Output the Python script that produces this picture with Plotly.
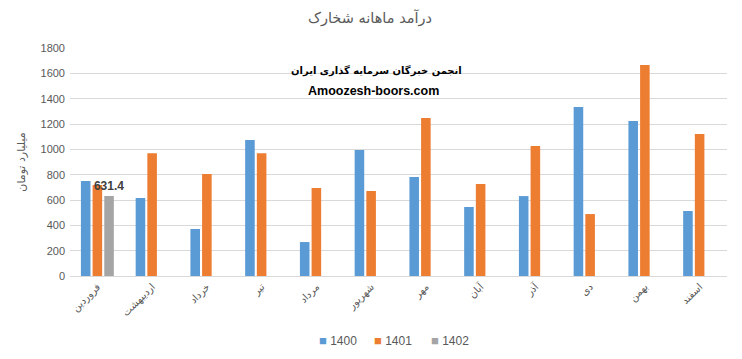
import plotly.graph_objects as go

months = ["فروردین", "اردیبهشت", "خرداد", "تیر", "مرداد", "شهریور",
          "مهر", "آبان", "آذر", "دی", "بهمن", "اسفند"]
y1400 = [750, 616, 371, 1073, 268, 995, 781, 545, 631, 1334, 1223, 513]
y1401 = [718, 970, 805, 970, 695, 671, 1247, 726, 1026, 489, 1665, 1121]
y1402 = [631.4, None, None, None, None, None, None, None, None, None, None, None]
series_names = ["1400", "1401", "1402"]
colors = ["#5B9BD5", "#ED7D31", "#A5A5A5"]
y_ticks = [0, 200, 400, 600, 800, 1000, 1200, 1400, 1600, 1800]

# page has an 8px body offset; screen positions converted below
OFF = 8
W, H = 742, 359
PL, PR, PT, PB = 70, 727, 48, 276  # plot area in screen pixels
TOP, BOTTOM = PT - OFF, H - (PB - OFF)
LEFT, RIGHT = PL - OFF, W - (PR - OFF)

def py(sy):
    return (PB - sy) / (PB - PT)

def px(sx):
    return (sx - PL) / (PR - PL)

fig = go.Figure()
for name, vals, col in zip(series_names, [y1400, y1401, y1402], colors):
    kw = {}
    if name == "1402":
        kw = dict(text=[f"{v}" if v is not None else "" for v in vals],
                  textposition="outside", cliponaxis=False, constraintext="none",
                  textfont=dict(family="Liberation Sans, Arial", size=12, color="#404040"),
                  texttemplate="<b>%{text}</b>")
    fig.add_trace(go.Bar(x=months, y=vals, name=name, marker_color=col,
                         marker_line_width=0, showlegend=False, **kw))

annotations = [
    dict(text="<b>انجمن خبرگان سرمایه گذاری ایران</b>", x=px(376), xref="paper",
         y=py(62), yref="paper", showarrow=False,
         font=dict(family="DejaVu Sans", size=10, color="#000000")),
    dict(text="<b>Amoozesh-boors.com</b>", x=px(373), xref="paper", y=py(82),
         yref="paper", showarrow=False,
         font=dict(family="Liberation Sans, Arial", size=12.5, color="#000000")),
]
# legend drawn as compact entries
legend_x = [317, 372, 429]
for name, col, lx in zip(series_names, colors, legend_x):
    annotations.append(dict(
        text=f'<span style="color:{col};font-size:13px">■</span> {name}',
        x=px(lx), xref="paper", xanchor="left", y=py(340), yref="paper",
        yanchor="middle", showarrow=False,
        font=dict(family="Liberation Sans, Arial", size=12, color="#595959")))

fig.update_layout(
    width=W, height=H,
    margin=dict(l=LEFT, r=RIGHT, t=TOP, b=BOTTOM, autoexpand=False),
    paper_bgcolor="white", plot_bgcolor="white",
    barmode="group", bargap=0.36, bargroupgap=0.18,
    showlegend=False,
    title=dict(text="درآمد ماهانه شخارک", x=(370 - OFF) / W, xanchor="center",
               y=1 - (18 - OFF) / H, yanchor="middle",
               font=dict(family="DejaVu Sans", size=14.5, color="#595959")),
    xaxis=dict(tickangle=-45, tickfont=dict(family="DejaVu Sans", size=10, color="#595959"),
               showline=True, linecolor="#d9d9d9", ticks="", showgrid=False,
               automargin=False),
    yaxis=dict(range=[0, 1800], tickvals=y_ticks, showgrid=True, gridcolor="#d9d9d9",
               zeroline=False, ticks="", ticklen=0, automargin=False,
               ticklabelstandoff=4,
               tickfont=dict(family="Liberation Sans, Arial", size=11, color="#595959"),
               title=dict(text="میلیارد تومان", standoff=12,
                          font=dict(family="DejaVu Sans", size=11, color="#595959"))),
    annotations=annotations,
)

fig.write_html("out.html")
